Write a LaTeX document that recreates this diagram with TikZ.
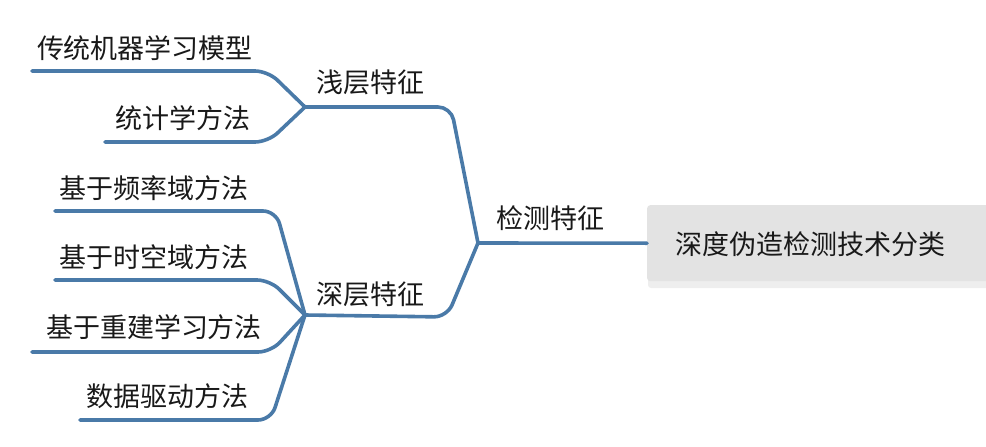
\documentclass[tikz,border=0pt]{standalone}
\usepackage{fontspec}
\setmainfont{Noto Sans CJK SC}
\definecolor{branch}{RGB}{74,122,168}
\definecolor{boxgray}{RGB}{227,227,227}
\definecolor{shadowgray}{RGB}{238,238,238}
\definecolor{txt}{RGB}{25,25,25}
\begin{document}
\begin{tikzpicture}[x=1pt,y=-1pt,
  br/.style={draw=branch,line width=3.6pt,rounded corners=13pt,line cap=round,line join=round},
  lbl/.style={inner sep=0pt,text=txt,font=\fontsize{27}{27}\selectfont},
]
\useasboundingbox (0,0) rectangle (986,447);
% root box
\fill[shadowgray,rounded corners=3pt] (648,209) rectangle (990,288);
\node[fill=boxgray,rounded corners=3pt,minimum width=343pt,minimum height=76pt,anchor=north west,inner sep=0pt] (root) at (647,205) {};
\node[lbl] (roott) at (810,244) {深度伪造检测技术分类};
% junctions and ends
\coordinate (jm) at (478,243);
\coordinate (js) at (305,107);
\coordinate (jd) at (305,315);
\coordinate (e1) at (32,71);
\coordinate (e2) at (105,142);
\coordinate (e3) at (55,211);
\coordinate (e4) at (55,280);
\coordinate (e5) at (32,352);
\coordinate (e6) at (80,420);
% main line
\draw[br] (jm) -- (root.west);
\draw[br] (js) -- (451,107) -- (jm);
\draw[br] (jd) -- (447,317) -- (jm);
% shallow
\draw[br] (e1) -- (268,71) -- (js);
\draw[br] (e2) -- (268,142) -- (js);
% deep
\draw[br] (e3) -- (276,211) -- (jd);
\draw[br] (e4) -- (270,280) -- (jd);
\draw[br] (e5) -- (271,352) -- (jd);
\draw[br] (e6) -- (271,420) -- (jd);
% labels
\node[lbl] (jmt) at (550,218) {检测特征};
\node[lbl] (jst) at (370,82) {浅层特征};
\node[lbl] (jdt) at (370,294) {深层特征};
\node[lbl] (t1) at (145,48) {传统机器学习模型};
\node[lbl] (t2) at (183,118) {统计学方法};
\node[lbl] (t3) at (154,188) {基于频率域方法};
\node[lbl] (t4) at (154,257) {基于时空域方法};
\node[lbl] (t5) at (154,327) {基于重建学习方法};
\node[lbl] (t6) at (167,396) {数据驱动方法};
\end{tikzpicture}
\end{document}
